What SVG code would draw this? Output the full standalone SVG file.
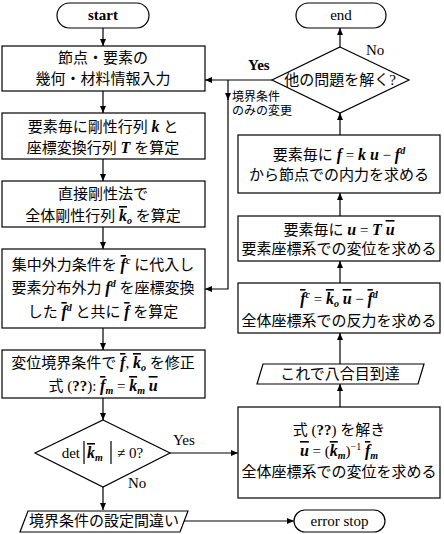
<svg xmlns="http://www.w3.org/2000/svg" width="444" height="534" viewBox="0 0 444 534">
<style>
.t{font-family:"Liberation Serif","Noto Sans CJK JP",serif;font-size:15px;fill:#000}
.m{text-anchor:middle}
.v{font-weight:bold;font-style:italic;font-size:16px}
.s{font-size:10px}
.sm{font-size:12px}
.b{fill:#fff;stroke:#000;stroke-width:1.2}
.c{fill:none;stroke:#000;stroke-width:1.2}
.ol{stroke:#000;stroke-width:1.2}
</style>
<defs>
<marker id="ah" markerUnits="userSpaceOnUse" markerWidth="7" markerHeight="6" refX="7" refY="3" orient="auto">
<path d="M0,0 L7,3 L0,6 z" fill="#000"/>
</marker>
</defs>
<rect width="444" height="534" fill="#fff"/>

<g id="connectors">
<path class="c" d="M103,28 V46" marker-end="url(#ah)"/>
<path class="c" d="M103,91 V113" marker-end="url(#ah)"/>
<path class="c" d="M103,159 V181" marker-end="url(#ah)"/>
<path class="c" d="M103,227 V249" marker-end="url(#ah)"/>
<path class="c" d="M103,328 V350" marker-end="url(#ah)"/>
<path class="c" d="M103,398 V420" marker-end="url(#ah)"/>
<path class="c" d="M103,487 V510" marker-end="url(#ah)"/>
<path class="c" d="M170,453 H238" marker-end="url(#ah)"/>
<path class="c" d="M183,521 H294" marker-end="url(#ah)"/>
<path class="c" d="M340,407 V384" marker-end="url(#ah)"/>
<path class="c" d="M340,364 V333" marker-end="url(#ah)"/>
<path class="c" d="M340,283 V261" marker-end="url(#ah)"/>
<path class="c" d="M340,216 V193" marker-end="url(#ah)"/>
<path class="c" d="M340,135 V113" marker-end="url(#ah)"/>
<path class="c" d="M340,47 V28" marker-end="url(#ah)"/>
<path class="c" d="M272,80 H205" marker-end="url(#ah)"/>
<path class="c" d="M228,80 V100" marker-end="url(#ah)"/>
<path class="c" d="M228,99 V289 H205" marker-end="url(#ah)"/>
<text class="t" x="248" y="70" font-weight="bold">Yes</text>
<text class="t" x="366" y="55">No</text>
<text class="t sm" x="232" y="101">境界条件</text>
<text class="t sm" x="232" y="115">のみの変更</text>
<text class="t" x="173" y="445">Yes</text>
<text class="t" x="128" y="488">No</text>
</g>

<g id="start">
<rect class="b" x="57" y="3" width="92" height="25" rx="12.5"/>
<text class="t m" x="103" y="20" font-weight="bold">start</text>
</g>

<g id="input">
<rect class="b" x="2" y="46" width="203" height="45"/>
<text class="t m" x="103" y="63">節点・要素の</text>
<text class="t m" x="103" y="84">幾何・材料情報入力</text>
</g>

<g id="element-matrix">
<rect class="b" x="2" y="113" width="203" height="46"/>
<text class="t m" x="103" y="132">要素毎に剛性行列 <tspan class="v">k</tspan> と</text>
<text class="t m" x="103" y="153">座標変換行列 <tspan class="v">T</tspan> を算定</text>
</g>

<g id="global-stiffness">
<rect class="b" x="2" y="181" width="203" height="46"/>
<text class="t m" x="103" y="199">直接剛性法で</text>
<text class="t m" x="103" y="221">全体剛性行列 <tspan class="v" text-decoration="overline">k</tspan><tspan class="v s" dy="3">o</tspan><tspan dy="-3"> を算定</tspan></text>
</g>

<g id="load-vector">
<rect class="b" x="2" y="249" width="203" height="79"/>
<text class="t m" x="103" y="270">集中外力条件を <tspan class="v" text-decoration="overline">f</tspan><tspan class="v s" dy="-6">c</tspan><tspan dy="6"> に代入し</tspan></text>
<text class="t m" x="103" y="293">要素分布外力 <tspan class="v">f</tspan><tspan class="v s" dy="-6">d</tspan><tspan dy="6"> を座標変換</tspan></text>
<text class="t m" x="103" y="317">した <tspan class="v" text-decoration="overline">f</tspan><tspan class="v s" dy="-6">d</tspan><tspan dy="6"> と共に </tspan><tspan class="v" text-decoration="overline">f</tspan> を算定</text>
</g>

<g id="boundary">
<rect class="b" x="2" y="350" width="203" height="48"/>
<text class="t m" x="103" y="368">変位境界条件で <tspan class="v" text-decoration="overline">f</tspan>, <tspan class="v" text-decoration="overline">k</tspan><tspan class="v s" dy="3">o</tspan><tspan dy="-3"> を修正</tspan></text>
<text class="t m" x="103" y="391">式 (<tspan font-weight="bold">??</tspan>): <tspan class="v" text-decoration="overline">f</tspan><tspan class="v s" dy="3">m</tspan><tspan dy="-3"> = </tspan><tspan class="v" text-decoration="overline">k</tspan><tspan class="v s" dy="3">m</tspan><tspan dy="-3"> </tspan><tspan class="v" text-decoration="overline">u</tspan></text>
</g>

<g id="det-check">
<polygon class="b" points="103,420 170,453 103,487 35,453"/>
<text class="t" x="80" y="458" text-anchor="end">det</text>
<line class="ol" x1="84" y1="441" x2="84" y2="464"/>
<text class="t" x="87" y="458"><tspan class="v" text-decoration="overline">k</tspan><tspan class="v s" dy="3">m</tspan></text>
<line class="ol" x1="111" y1="441" x2="111" y2="464"/>
<text class="t" x="117" y="458">≠ 0?</text>
</g>

<g id="bc-error">
<polygon class="b" points="28,511 188,511 180,532 20,532"/>
<text class="t m" x="104" y="526">境界条件の設定間違い</text>
</g>

<g id="error-stop">
<rect class="b" x="294" y="510" width="91" height="22" rx="11"/>
<text class="t m" x="339.500" y="526">error stop</text>
</g>

<g id="solve">
<rect class="b" x="238" y="407" width="202" height="91"/>
<text class="t m" x="339" y="435">式 (<tspan font-weight="bold">??</tspan>) を解き</text>
<text class="t m" x="339" y="456"><tspan class="v" text-decoration="overline">u</tspan> = (<tspan class="v" text-decoration="overline">k</tspan><tspan class="v s" dy="3">m</tspan><tspan dy="-3">)</tspan><tspan class="s" dy="-6">−1</tspan><tspan dy="6"> </tspan><tspan class="v" text-decoration="overline">f</tspan><tspan class="v s" dy="3">m</tspan></text>
<text class="t m" x="339" y="477">全体座標系での変位を求める</text>
</g>

<g id="milestone">
<polygon class="b" points="263,364 424,364 418,384 257,384"/>
<text class="t m" x="340" y="379">これで八合目到達</text>
</g>

<g id="reaction">
<rect class="b" x="238" y="283" width="202" height="50"/>
<text class="t m" x="339" y="304"><tspan class="v" text-decoration="overline">f</tspan><tspan class="v s" dy="-6">c</tspan><tspan dy="6"> = </tspan><tspan class="v" text-decoration="overline">k</tspan><tspan class="v s" dy="3">o</tspan><tspan dy="-3"> </tspan><tspan class="v" text-decoration="overline">u</tspan> − <tspan class="v" text-decoration="overline">f</tspan><tspan class="v s" dy="-6">d</tspan></text>
<text class="t m" x="339" y="326">全体座標系での反力を求める</text>
</g>

<g id="local-disp">
<rect class="b" x="238" y="216" width="202" height="45"/>
<text class="t m" x="339" y="235">要素毎に <tspan class="v">u</tspan> = <tspan class="v">T</tspan> <tspan class="v" text-decoration="overline">u</tspan></text>
<text class="t m" x="339" y="254">要素座標系での変位を求める</text>
</g>

<g id="internal-force">
<rect class="b" x="238" y="135" width="202" height="58"/>
<text class="t m" x="339" y="160">要素毎に <tspan class="v">f</tspan> = <tspan class="v">k u</tspan> − <tspan class="v">f</tspan><tspan class="v s" dy="-6">d</tspan></text>
<text class="t m" x="339" y="180">から節点での内力を求める</text>
</g>

<g id="other-problem">
<polygon class="b" points="340,47 409,80 340,113 272,80"/>
<text class="t m" x="340" y="85">他の問題を解く?</text>
</g>

<g id="end">
<rect class="b" x="296" y="3" width="90" height="25" rx="12.5"/>
<text class="t m" x="341" y="20">end</text>
</g>
</svg>
